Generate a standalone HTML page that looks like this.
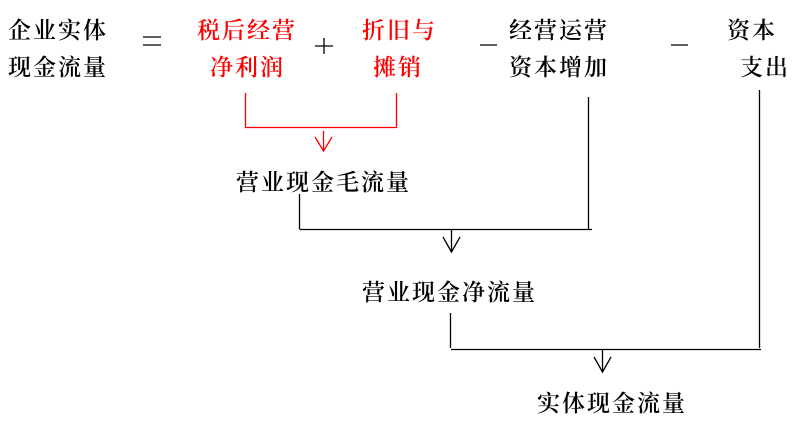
<!DOCTYPE html>
<html><head><meta charset="utf-8"><style>
html,body{margin:0;padding:0;background:#fff;}
svg text{font-family:"Liberation Serif","Noto Serif CJK SC",serif;font-size:23px;font-weight:600;letter-spacing:2px;}
</style></head><body>
<svg width="804" height="430" viewBox="0 0 804 430" xmlns="http://www.w3.org/2000/svg">
<g fill="#000">
<text x="8" y="38">企业实体</text>
<text x="8" y="75">现金流量</text>
<text x="509" y="38">经营运营</text>
<text x="509" y="75">资本增加</text>
<text x="727" y="38">资本</text>
<text x="740" y="75">支出</text>
<text x="236" y="190">营业现金毛流量</text>
<text x="362" y="300">营业现金净流量</text>
<text x="537" y="411">实体现金流量</text>
</g>
<g fill="#ff0000">
<text x="197" y="38">税后经营</text>
<text x="210" y="75">净利润</text>
<text x="362" y="38">折旧与</text>
<text x="373" y="75">摊销</text>
</g>
<g stroke="#000" stroke-width="1.3" fill="none">
<line x1="143" y1="37" x2="161" y2="37"/>
<line x1="143" y1="45" x2="161" y2="45"/>
<line x1="315" y1="46" x2="333" y2="46"/>
<line x1="324" y1="38" x2="324" y2="54"/>
<line x1="480" y1="45" x2="497" y2="45"/>
<line x1="671" y1="45" x2="688" y2="45"/>
<line x1="299.5" y1="194" x2="299.5" y2="229"/>
<line x1="299.5" y1="229.5" x2="592" y2="229.5"/>
<line x1="588.5" y1="97" x2="588.5" y2="229"/>
<line x1="451.5" y1="230" x2="451.5" y2="252"/>
<polyline points="443,237 451.5,252 460,237"/>
<line x1="450.5" y1="313" x2="450.5" y2="348"/>
<line x1="451" y1="349.5" x2="761" y2="349.5"/>
<line x1="759.5" y1="90" x2="759.5" y2="348"/>
<line x1="602.5" y1="350" x2="602.5" y2="372"/>
<polyline points="594,357 602.5,372 611,357"/>
</g>
<g stroke="#ff0000" stroke-width="1.3" fill="none">
<line x1="245.5" y1="93" x2="245.5" y2="127"/>
<line x1="396.5" y1="93" x2="396.5" y2="127"/>
<line x1="245" y1="127.5" x2="397" y2="127.5"/>
<line x1="323.5" y1="131" x2="323.5" y2="151"/>
<polyline points="315,137 323.5,151 332,137"/>
</g>
</svg>
</body></html>
